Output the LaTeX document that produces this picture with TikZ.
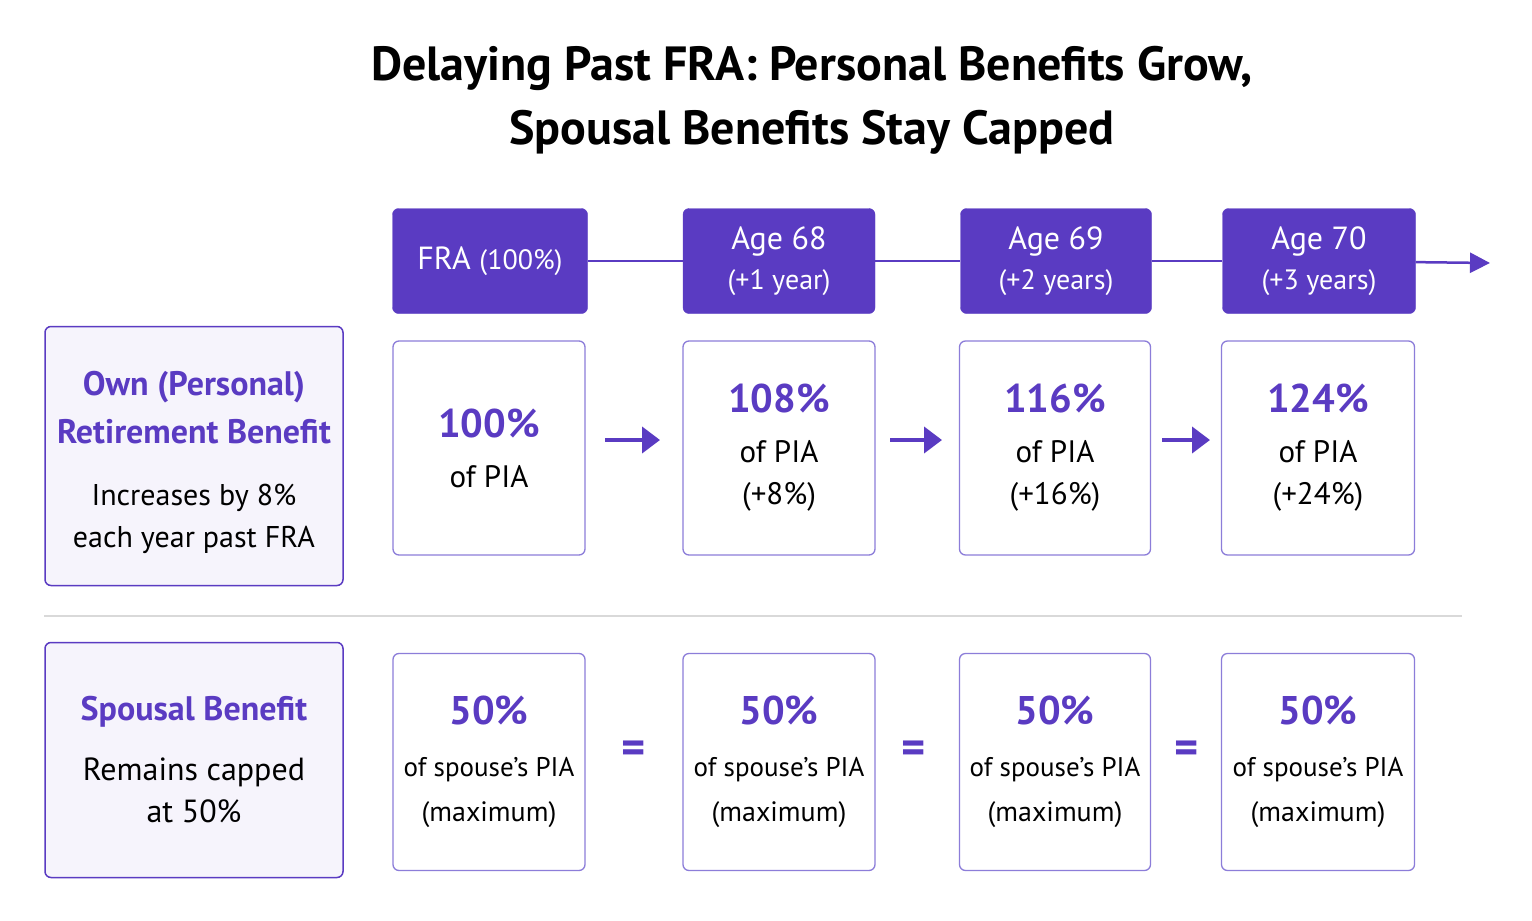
\documentclass[tikz,border=0pt]{standalone}
\usepackage{fontspec}
\setmainfont{PT Sans}
\usetikzlibrary{arrows.meta}
\definecolor{pp}{HTML}{5A3BC2}
\definecolor{pl}{HTML}{8C7DD9}
\definecolor{pf}{HTML}{F6F4FC}
\newcommand{\hbig}{\color{pp}\bfseries\fontsize{40}{42}\selectfont}
\newcommand{\hside}{\color{pp}\bfseries\fontsize{34}{42}\selectfont}
\newcommand{\nrm}[1]{\color{black}\mdseries\fontsize{#1}{42}\selectfont}
\begin{document}
\begin{tikzpicture}[x=1pt,y=-1pt,
 hdr/.style={draw=pp,fill=pp,rounded corners=6pt,minimum width=195pt,minimum height=105pt,text=white,align=center,font=\fontsize{32}{42}\selectfont,inner sep=0},
 cell/.style={draw=pl,line width=1.3pt,rounded corners=6pt,minimum width=192pt,align=center,font=\fontsize{30}{42}\selectfont,inner sep=0},
 side/.style={draw=pp,line width=1.5pt,fill=pf,rounded corners=6pt,minimum width=298pt,align=center,font=\fontsize{30}{42}\selectfont,inner sep=0},
 arr/.style={pp,line width=4pt,-{Triangle[length=18pt,width=26pt]}},
 eq/.style={text=pp,font=\bfseries\fontsize{46}{46}\selectfont}]
\useasboundingbox[fill=white] (0,0) rectangle (1532,921);
\node[font=\bfseries\fontsize{48}{64}\selectfont,align=center] (title) at (812,100) {Delaying Past FRA: Personal Benefits Grow,\\Spousal Benefits Stay Capped};
% timeline
\coordinate (tend) at (1490,263);
\node[hdr] (h1) at (490,261) {FRA \fontsize{28}{30}\selectfont(100\%)};
\node[hdr,minimum width=192pt] (h2) at (779,261) {Age 68\\[-2pt]\fontsize{28}{34}\selectfont(+1 year)};
\node[hdr,minimum width=191pt] (h3) at (1056,261) {Age 69\\[-2pt]\fontsize{28}{34}\selectfont(+2 years)};
\node[hdr,minimum width=193pt] (h4) at (1319,261) {Age 70\\[-2pt]\fontsize{28}{34}\selectfont(+3 years)};
\draw[pp,line width=2.5pt] (h1) -- (h2);
\draw[pp,line width=2.5pt] (h2) -- (h3);
\draw[pp,line width=2.5pt] (h3) -- (h4);
\draw[pp,line width=2.5pt,-{Triangle[length=20pt,width=20pt]}] (h4) -- (tend);
% row 1
\node[side,minimum width=298pt,minimum height=259pt] (s1) at (194,456) {};
\node[align=center,font=\fontsize{30}{42}\selectfont] (s1t) at (194,462) {\hside Own (Personal)\\[6pt]\hside Retirement Benefit\\[20pt]\nrm{30}Increases by 8\%\\\nrm{30}each year past FRA};
\node[cell,minimum height=214pt] (a1) at (489,448) {\hbig 100\%\\[8pt]\nrm{31}of PIA};
\node[cell,minimum height=214pt] (a2) at (779,448) {\hbig 108\%\\[8pt]\nrm{31}of PIA\\\nrm{31}(+8\%)};
\node[cell,minimum height=214pt,minimum width=191pt] (a3) at (1055,448) {\hbig 116\%\\[8pt]\nrm{31}of PIA\\\nrm{31}(+16\%)};
\node[cell,minimum height=214pt,minimum width=193pt] (a4) at (1318,448) {\hbig 124\%\\[8pt]\nrm{31}of PIA\\\nrm{31}(+24\%)};
\coordinate (p1) at (605,440); \coordinate (q1) at (660,440);
\coordinate (p2) at (890,440); \coordinate (q2) at (942,440);
\coordinate (p3) at (1162,440); \coordinate (q3) at (1210,440);
\draw[arr] (p1) -- (q1);
\draw[arr] (p2) -- (q2);
\draw[arr] (p3) -- (q3);
% divider
\coordinate (d1) at (44,616); \coordinate (d2) at (1462,616);
\draw[black!15,line width=1.2pt] (d1) -- (d2);
% row 2
\node[side,minimum height=235pt] (s2) at (194,760) {\hside Spousal Benefit\\[18pt]\nrm{32}Remains capped\\\nrm{32}at 50\%};
\foreach \n/\x/\w in {1/489/192,2/779/192,3/1055/191,4/1318/193}{
\node[cell,minimum height=217pt,minimum width=\w pt] (b\n) at (\x,762) {\hbig 50\%\\[10pt]\nrm{27}of spouse’s PIA\\[3pt]\nrm{28}(maximum)};}
\node[eq] (e1) at (634,752) {=};
\node[eq] (e2) at (914,752) {=};
\node[eq] (e3) at (1187,752) {=};
\end{tikzpicture}
\end{document}
